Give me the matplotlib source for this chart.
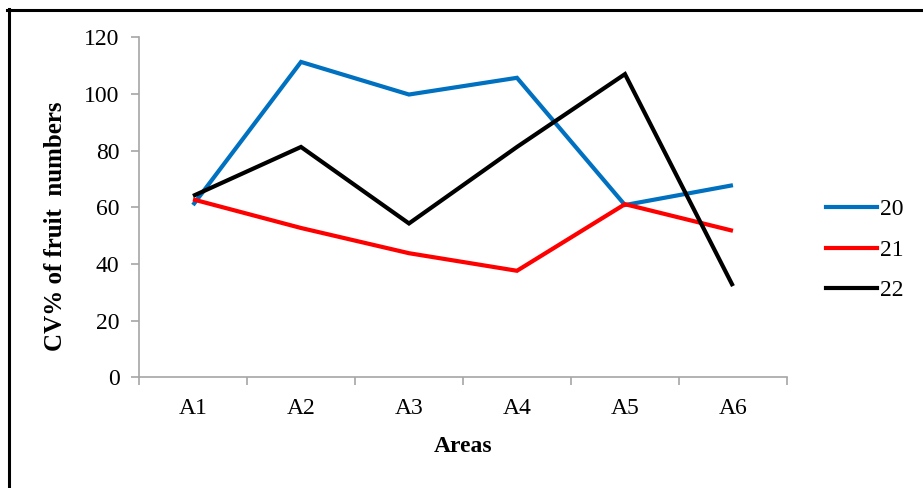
import matplotlib
matplotlib.use("Agg")
import matplotlib.pyplot as plt
from matplotlib.lines import Line2D

areas = ["A1", "A2", "A3", "A4", "A5", "A6"]
series_names = ["20", "21", "22"]
cv_20 = [60.8, 111.3, 99.8, 105.7, 60.8, 67.8]
cv_21 = [62.8, 52.7, 43.8, 37.6, 61.1, 51.7]
cv_22 = [64.0, 81.3, 54.3, 81.3, 107.0, 32.2]
yticks = [0, 20, 40, 60, 80, 100, 120]

colors = ["#0070C0", "#FF0000", "#000000"]
grey = "#A6A6A6"

plt.rcParams["font.family"] = ["Liberation Serif", "DejaVu Serif"]

fig = plt.figure(figsize=(9.23, 4.88), dpi=100)
fig.set_facecolor("white")
ax = fig.add_axes([0.1506, 0.2268, 0.702, 0.6968])

x = list(range(len(areas)))
for vals, name, c in zip([cv_20, cv_21, cv_22], series_names, colors):
    ax.plot(x, vals, color=c, lw=3, label=name, solid_joinstyle="miter",
            solid_capstyle="butt")

ax.set_xlim(-0.5, len(areas) - 0.5)
ax.set_ylim(0, 120)
ax.set_yticks(yticks)
# tick marks sit between categories, labels at the category centres
ax.set_xticks([i - 0.5 for i in range(len(areas) + 1)])
ax.set_xticklabels([])
ax.set_xticks(x, minor=True)
ax.set_xticklabels(areas, minor=True)
ax.tick_params(axis="x", which="major", direction="out", length=6,
               color=grey, width=1.2)
ax.tick_params(axis="x", which="minor", length=0, pad=15, labelsize=17)
ax.tick_params(axis="y", direction="out", length=6, color=grey, width=1.2,
               labelsize=17, pad=8)

for side in ["top", "right"]:
    ax.spines[side].set_visible(False)
for side in ["left", "bottom"]:
    ax.spines[side].set_color(grey)
    ax.spines[side].set_linewidth(1.2)

ax.set_ylabel("CV% of fruit  numbers", fontsize=18, fontweight="bold")
ax.yaxis.set_label_coords(-0.111, 0.445)
ax.set_xlabel("Areas", fontsize=17, fontweight="bold", labelpad=12)

handles = [Line2D([], [], color=c, lw=3) for c in colors]
fig.legend(handles, series_names, loc="center left",
           bbox_to_anchor=(0.895, 0.4877), frameon=False, fontsize=17,
           handlelength=2.15, handletextpad=0.13, labelspacing=0.8,
           borderpad=0, borderaxespad=0)

# border lines along the left and top edges
fig.add_artist(Line2D([0.0095, 0.0095], [0, 0.982], color="black", lw=2.2,
                      transform=fig.transFigure))
fig.add_artist(Line2D([0.008, 1.0], [0.9805, 0.9805], color="black", lw=2.2,
                      transform=fig.transFigure))

fig.savefig("out.png", dpi=100)
